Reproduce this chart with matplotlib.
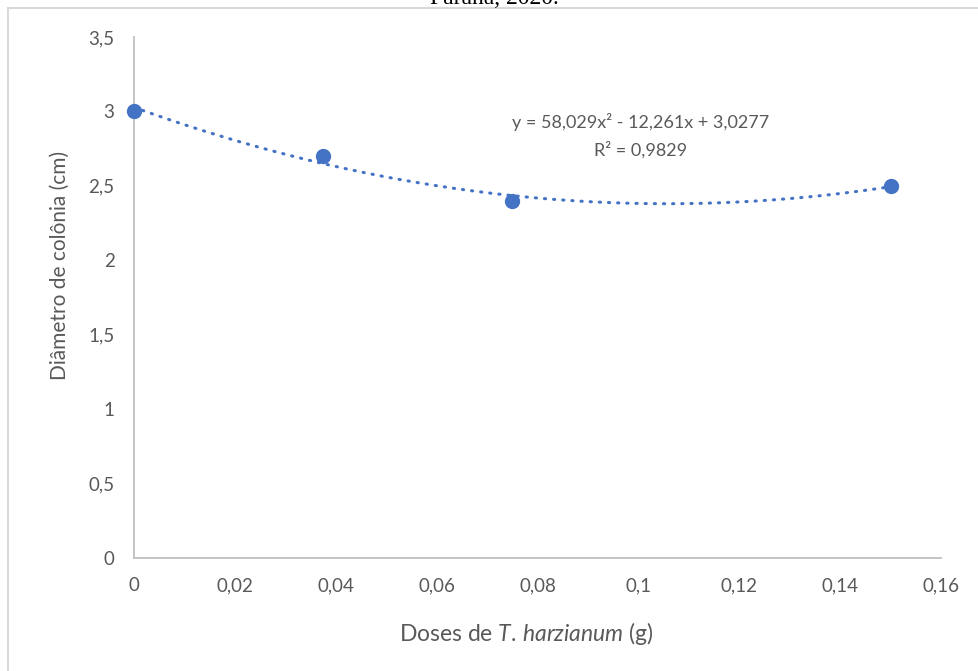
import numpy as np
import matplotlib
matplotlib.use("Agg")
import matplotlib.pyplot as plt
from matplotlib.lines import Line2D
from matplotlib.ticker import FuncFormatter

plt.rcParams['font.family'] = ['Lato', 'DejaVu Sans']
plt.rcParams['mathtext.fontset'] = 'custom'
plt.rcParams['mathtext.rm'] = 'Lato'
plt.rcParams['mathtext.it'] = 'Lato:italic'

doses = [0.0, 0.0375, 0.075, 0.15]
diametro = [3.0, 2.7, 2.4, 2.5]
coef = [58.029, -12.261, 3.0277]  # a x^2 + b x + c
r2 = 0.9829

x_ticks = [0, 0.02, 0.04, 0.06, 0.08, 0.1, 0.12, 0.14, 0.16]
y_ticks = [0, 0.5, 1, 1.5, 2, 2.5, 3, 3.5]

blue = '#4472C4'
gray_txt = '#595959'
spine = '#BFBFBF'

fig = plt.figure(figsize=(9.79, 6.71), dpi=100)
ax = fig.add_axes([134/979, 1-558/671, (941-134)/979, (558-37)/671])

xs = np.linspace(0, 0.15, 300)
ys = np.polyval(coef, xs)
ax.plot(xs, ys, color=blue, lw=2.2, linestyle=(0, (0.4, 2.6)),
        dash_capstyle='round', zorder=2)
ax.plot(doses, diametro, 'o', color=blue, markersize=10, zorder=3, clip_on=False)

ax.set_xlim(0, 0.16)
ax.set_ylim(0, 3.5)
ax.set_xticks(x_ticks)
ax.set_yticks(y_ticks)
fmt = FuncFormatter(lambda v, p: ('%g' % round(v, 4)).replace('.', ','))
ax.xaxis.set_major_formatter(fmt)
ax.yaxis.set_major_formatter(fmt)
ax.tick_params(length=0, labelsize=13.5, labelcolor=gray_txt)
ax.tick_params(axis='x', pad=14)
ax.tick_params(axis='y', pad=14)
for s in ['top', 'right']:
    ax.spines[s].set_visible(False)
for s in ['left', 'bottom']:
    ax.spines[s].set_color(spine)
    ax.spines[s].set_linewidth(1.3)

ax.set_xlabel('Doses de $\\mathit{T.\\,harzianum}$ (g)', fontsize=16.5, color=gray_txt)
ax.set_ylabel('Diâmetro de colônia (cm)', fontsize=15, color=gray_txt)
ax.xaxis.set_label_coords(0.486, -0.119)
ax.yaxis.set_label_coords(-0.080, 0.562)

ax.text(0.1005, 2.93, 'y = 58,029x² - 12,261x + 3,0277', ha='center', va='center',
        fontsize=13, color=gray_txt)
ax.text(0.1005, 2.74, 'R² = ' + ('%g' % r2).replace('.', ','), ha='center', va='center',
        fontsize=13, color=gray_txt)

# chart frame
fig.add_artist(Line2D([8/979, 8/979], [0, 1-8/671], color='#D9D9D9', lw=1.5,
                      transform=fig.transFigure))
fig.add_artist(Line2D([8/979, 1], [1-8/671, 1-8/671], color='#D9D9D9', lw=1.5,
                      transform=fig.transFigure))
# caption above the chart (cut off at the top edge, as in the reference)
fig.text(0.505, 1-4/671, 'Paraná, 2020.', ha='center', va='baseline',
         fontsize=17, family='Liberation Serif', color='black')

fig.savefig('out.png', dpi=100)
